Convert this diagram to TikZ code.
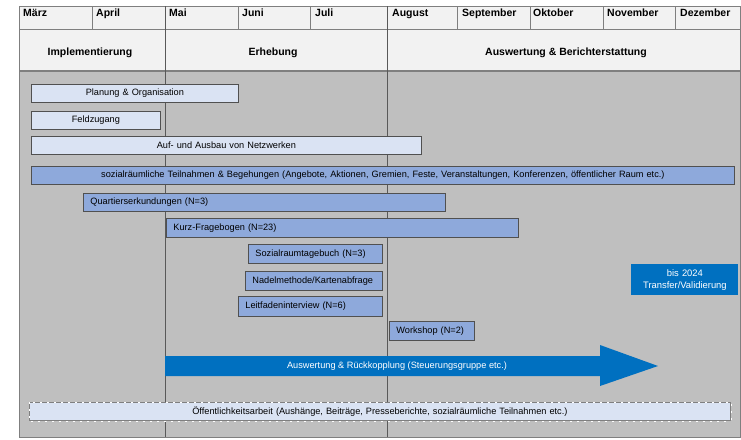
\documentclass[tikz,border=0pt]{standalone}
\usepackage{fontspec}
\setmainfont{Liberation Sans}
\definecolor{hdr}{HTML}{F2F2F2}
\definecolor{bgc}{HTML}{BFBFBF}
\definecolor{gridc}{HTML}{7F7F7F}
\definecolor{divc}{HTML}{595959}
\definecolor{lightb}{HTML}{DAE3F3}
\definecolor{midb}{HTML}{8EA9DB}
\definecolor{darkb}{HTML}{0070C0}
\definecolor{bord}{HTML}{505050}
\begin{document}
\begin{tikzpicture}[x=1pt,y=-1pt,
  month/.style={anchor=base west,font=\bfseries\fontsize{10.5}{12}\selectfont,inner sep=0pt},
  phase/.style={anchor=base,font=\bfseries\fontsize{10.5}{12}\selectfont,inner sep=0pt},
  box/.style={draw=bord,line width=0.8pt,anchor=north west,inner ysep=0pt,
    font=\fontsize{9.2}{11}\selectfont},
  cbox/.style={box,inner xsep=0pt,align=center},
  lbox/.style={box,inner xsep=7pt,align=left},
  light/.style={fill=lightb},
  mid/.style={fill=midb}]
\useasboundingbox (0,0) rectangle (741,439);
\fill[white] (0,0) rectangle (741,439);
% backgrounds
\fill[hdr] (19,6) rectangle (741,71);
\fill[bgc] (19,71) rectangle (741,437);
% grid
\draw[gridc,line width=0.9pt] (19,6) -- (741,6);
\draw[gridc,line width=0.9pt] (19,29) -- (741,29);
\draw[gridc,line width=1.2pt] (19,71) -- (741,71);
\draw[gridc,line width=1pt] (19,437) -- (741,437);
\draw[gridc,line width=1pt] (19,6) -- (19,437);
\draw[gridc,line width=1pt] (740.5,6) -- (740.5,437);
\foreach \x in {92,238,310,457,530,603,675}{\draw[gridc,line width=0.8pt] (\x,6) -- (\x,29);}
\draw[divc,line width=1pt] (165,6) -- (165,437);
\draw[divc,line width=1pt] (387,6) -- (387,437);
% months
\node[month] (m3) at (23,16.5) {März};
\node[month] (m4) at (96,16.5) {April};
\node[month] (m5) at (169,16.5) {Mai};
\node[month] (m6) at (242,16.5) {Juni};
\node[month] (m7) at (315,16.5) {Juli};
\node[month] (m8) at (392,16.5) {August};
\node[month] (m9) at (462,16.5) {September};
\node[month] (m10) at (533,16.5) {Oktober};
\node[month] (m11) at (607,16.5) {November};
\node[month] (m12) at (680,16.5) {Dezember};
% phases
\node[phase] (p1) at (90,55) {Implementierung};
\node[phase] (p2) at (273,55) {Erhebung};
\node[phase] (p3) at (566,55) {Auswertung \& Berichterstattung};
% boxes
\node[cbox,light,text width=207pt,minimum height=18pt] (plan) at (31,84) {Planung \& Organisation};
\node[cbox,light,text width=129pt,minimum height=18pt] (feld) at (31,111) {Feldzugang};
\node[cbox,light,text width=390pt,minimum height=18pt] (netz) at (31,136) {Auf- und Ausbau von Netzwerken};
\node[cbox,mid,text width=703pt,minimum height=18pt] (sozi) at (31,166) {sozialräumliche Teilnahmen \& Begehungen (Angebote, Aktionen, Gremien, Feste, Veranstaltungen, Konferenzen, öffentlicher Raum etc.)};
\node[lbox,mid,text width=348pt,minimum height=18pt] (quart) at (83,193) {Quartierserkundungen (N=3)};
\node[lbox,mid,text width=338pt,minimum height=19pt] (kurz) at (166,218) {Kurz-Fragebogen (N=23)};
\node[lbox,mid,text width=120pt,minimum height=19pt] (tage) at (248,244) {Sozialraumtagebuch (N=3)};
\node[lbox,mid,text width=123pt,minimum height=19pt] (nadel) at (245,271) {Nadelmethode/Kartenabfrage};
\node[lbox,mid,text width=130pt,minimum height=20pt] (leit) at (238,296) {Leitfadeninterview (N=6)};
\node[lbox,mid,text width=71pt,minimum height=19pt] (work) at (389,321) {Workshop (N=2)};
\node[box,draw=none,fill=darkb,text=white,align=center,inner xsep=0pt,text width=107pt,minimum height=31pt,
  font=\fontsize{9.4}{12}\selectfont] (bis) at (631,264) {bis 2024\\Transfer/Validierung};
% arrow
\fill[darkb] (165,356) -- (600,356) -- (600,345) -- (658,366) -- (600,386) -- (600,376) -- (165,376) -- cycle;
\node[text=white,font=\fontsize{9.2}{11}\selectfont,inner sep=0pt] (rueck) at (397,366) {Auswertung \& Rückkopplung (Steuerungsgruppe etc.)};
% public relations
\node[cbox,light,text width=701pt,minimum height=18pt,draw=gridc] (oeff) at (29,402) {Öffentlichkeitsarbeit (Aushänge, Beiträge, Presseberichte, sozialräumliche Teilnahmen etc.)};
\draw[white,line width=0.4pt,dash pattern=on 2pt off 5pt] (oeff.north west) rectangle (oeff.south east);
\end{tikzpicture}
\end{document}
